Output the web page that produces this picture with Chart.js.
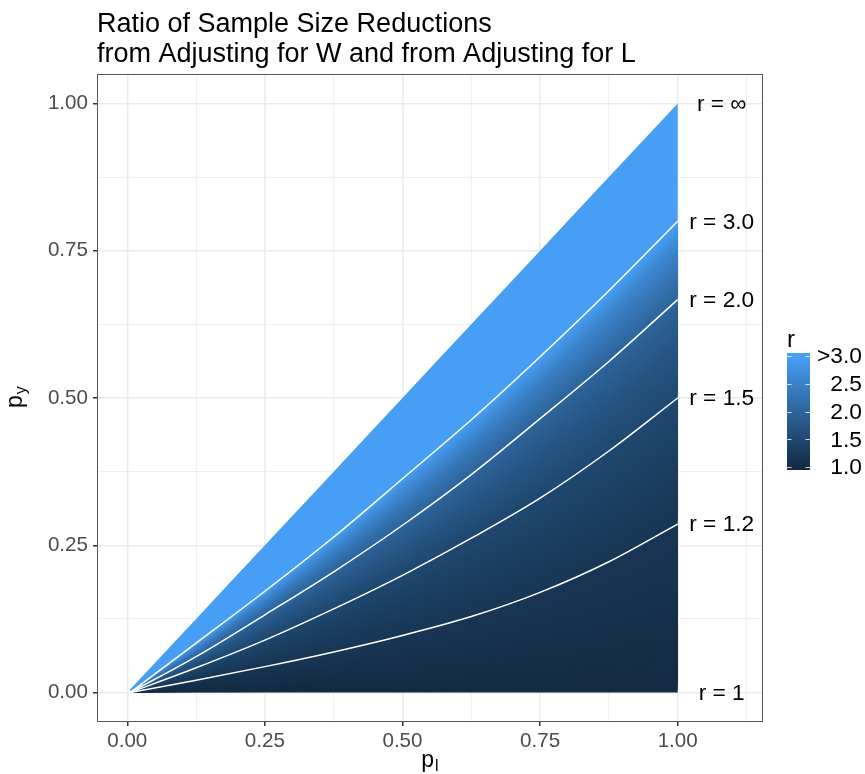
<!DOCTYPE html>
<html>
<head>
<meta charset="utf-8">
<script src="https://cdn.jsdelivr.net/npm/chart.js@4.4.1/dist/chart.umd.min.js"></script>
<style>
  html, body { margin: 0; padding: 0; background: #fff; }
</style>
</head>
<body>
<canvas id="chart" width="865" height="774"></canvas>
<script>
const pl = [0.005, 0.125, 0.25, 0.375, 0.5, 0.625, 0.75, 0.875, 1.0];
// p_y of each curve at those p_l
const pyInf = [0.005, 0.125, 0.25, 0.375, 0.5, 0.625, 0.75, 0.875, 1.0];
const py30 = [0, 0.084, 0.172, 0.264, 0.363, 0.463, 0.570, 0.682, 0.800];
const py20 = [0, 0.061, 0.132, 0.205, 0.284, 0.370, 0.465, 0.562, 0.667];
const py15 = [0, 0.042, 0.089, 0.142, 0.199, 0.262, 0.330, 0.410, 0.500];
const py12 = [0, 0.021, 0.044, 0.069, 0.097, 0.129, 0.170, 0.222, 0.286];
const py10 = [0, 0, 0, 0, 0, 0, 0, 0, 0];
const curveR = [Infinity, 3.0, 2.0, 1.5, 1.2, 1.0];
const curveLabels = ['r = \u221e', 'r = 3.0', 'r = 2.0', 'r = 1.5', 'r = 1.2', 'r = 1'];

const xMajor = [0, 0.25, 0.5, 0.75, 1.0];
const xMinor = [0.125, 0.375, 0.625, 0.875, 1.125];
const yMajor = [0, 0.25, 0.5, 0.75, 1.0];
const yMinor = [0.125, 0.375, 0.625, 0.875];

const legendTicks = [3.0, 2.5, 2.0, 1.5, 1.0];
const legendLabels = ['>3.0', '2.5', '2.0', '1.5', '1.0'];

const titleLines = ['Ratio of Sample Size Reductions', 'from Adjusting for W and from Adjusting for L'];

const LOW = [19, 43, 67];
const HIGH = [71, 159, 245];
const FONT = '"Liberation Sans", Arial, sans-serif';

function colourFor(r) {
  const f = (Math.min(r, 3) - 1) / 2;
  const c = LOW.map((v, i) => Math.round(v + f * (HIGH[i] - v)));
  return 'rgb(' + c.join(',') + ')';
}

const curves = [pyInf, py30, py20, py15, py12, py10];

// shaded bands between neighbouring curves, coloured by r.
// uses the same monotone bezier control points Chart.js uses for the lines
const fillPlugin = {
  id: 'isoFill',
  beforeDatasetsDraw(chart) {
    const ctx = chart.ctx;
    const pts = curves.map((c, i) => {
      const meta = chart.getDatasetMeta(i);
      meta.dataset.updateControlPoints(chart.chartArea);
      return meta.data;
    });
    const mix = (a, b, t, k) => a[k] + t * (b[k] - a[k]);
    ctx.save();
    for (let b = 0; b < curves.length - 1; b++) {
      const up = pts[b], lo = pts[b + 1];
      const uU = 1 - 1 / curveR[b], uL = 1 - 1 / curveR[b + 1];
      const steps = isFinite(curveR[b]) ? 48 : 1;
      for (let k = 0; k < steps; k++) {
        const t = k / steps, tm = (k + 0.5) / steps;
        ctx.fillStyle = colourFor(1 / (1 - (uL + tm * (uU - uL))));
        ctx.beginPath();
        ctx.moveTo(lo[0].x, mix(lo[0], up[0], t, 'y'));
        for (let i = 1; i < lo.length; i++) {
          ctx.bezierCurveTo(lo[i - 1].cp2x, mix(lo[i - 1], up[i - 1], t, 'cp2y'),
            lo[i].cp1x, mix(lo[i], up[i], t, 'cp1y'),
            lo[i].x, mix(lo[i], up[i], t, 'y'));
        }
        const n = up.length - 1;
        ctx.lineTo(up[n].x, up[n].y);
        for (let i = n; i > 0; i--) {
          ctx.bezierCurveTo(up[i].cp1x, up[i].cp1y, up[i - 1].cp2x, up[i - 1].cp2y, up[i - 1].x, up[i - 1].y);
        }
        ctx.closePath();
        ctx.fill();
      }
    }
    ctx.restore();
  }
};

const textPlugin = {
  id: 'texts',
  afterDraw(chart) {
    const ctx = chart.ctx, xs = chart.scales.x, ys = chart.scales.y, a = chart.chartArea;
    ctx.save();
    // panel border
    ctx.strokeStyle = '#555';
    ctx.lineWidth = 1;
    ctx.strokeRect(Math.round(a.left) + 0.5, Math.round(a.top) + 0.5, Math.round(a.right - a.left) - 1, Math.round(a.bottom - a.top) - 1);

    // title
    ctx.fillStyle = '#000';
    ctx.textAlign = 'left';
    ctx.textBaseline = 'alphabetic';
    ctx.font = '27px ' + FONT;
    ctx.fillText(titleLines[0], a.left, 32);
    ctx.fillText(titleLines[1], a.left, 62);

    // curve labels
    ctx.font = '22.7px ' + FONT;
    ctx.textAlign = 'center';
    ctx.textBaseline = 'middle';
    curves.forEach((c, i) => {
      ctx.fillText(curveLabels[i], xs.getPixelForValue(1.08), ys.getPixelForValue(c[c.length - 1]) + 1);
    });

    // x axis title p_l
    ctx.textAlign = 'left';
    ctx.textBaseline = 'alphabetic';
    ctx.font = '23px ' + FONT;
    const pw = ctx.measureText('p').width;
    ctx.font = '16px ' + FONT;
    const lw = ctx.measureText('l').width;
    const cx = (a.left + a.right) / 2 - (pw + lw + 1) / 2;
    ctx.font = '23px ' + FONT;
    ctx.fillText('p', cx, 767);
    ctx.font = '16px ' + FONT;
    ctx.fillText('l', cx + pw + 1, 771);

    // y axis title p_y
    ctx.save();
    ctx.translate(22, 408);
    ctx.rotate(-Math.PI / 2);
    ctx.font = '23px ' + FONT;
    ctx.fillText('p', 0, 0);
    ctx.font = '16px ' + FONT;
    ctx.fillText('y', pw + 1, 4);
    ctx.restore();

    // colour bar legend
    const barL = 787, barR = 810, barT = 353, barB = 470;
    const rTop = 356, rBot = 467;
    const yFor = r => rBot - (r - 1) / 2 * (rBot - rTop);
    const grad = ctx.createLinearGradient(0, rBot, 0, rTop);
    grad.addColorStop(0, colourFor(1));
    grad.addColorStop(1, colourFor(3));
    ctx.fillStyle = colourFor(1);
    ctx.fillRect(barL, rBot, barR - barL, barB - rBot);
    ctx.fillStyle = colourFor(3);
    ctx.fillRect(barL, barT, barR - barL, rTop - barT);
    ctx.fillStyle = grad;
    ctx.fillRect(barL, rTop, barR - barL, rBot - rTop);
    ctx.strokeStyle = 'rgba(255,255,255,0.8)';
    ctx.lineWidth = 1;
    legendTicks.forEach(v => {
      const yy = Math.round(yFor(v)) + 0.5;
      ctx.beginPath();
      ctx.moveTo(barL, yy); ctx.lineTo(barL + 4.5, yy);
      ctx.moveTo(barR - 4.5, yy); ctx.lineTo(barR, yy);
      ctx.stroke();
    });
    ctx.fillStyle = '#000';
    ctx.font = '22.8px ' + FONT;
    ctx.textAlign = 'right';
    ctx.textBaseline = 'middle';
    legendTicks.forEach((v, i) => ctx.fillText(legendLabels[i], 862, yFor(v) + 1));
    ctx.textAlign = 'left';
    ctx.textBaseline = 'alphabetic';
    ctx.font = '24px ' + FONT;
    ctx.fillText('r', barL, 347);
    ctx.restore();
  }
};

function ticksFrom(major, minor) {
  return scale => {
    scale.ticks = major.concat(minor).sort((p, q) => p - q).map(v => ({ value: v }));
  };
}
const isMajor = (list, v) => list.some(m => Math.abs(m - v) < 1e-9);

const lineSet = (data, show) => ({
  data: pl.map((p, i) => ({ x: p, y: data[i] })),
  showLine: true,
  borderColor: show ? '#ffffff' : 'rgba(0,0,0,0)',
  borderWidth: show ? 1.5 : 0,
  pointRadius: 0,
  cubicInterpolationMode: 'monotone'
});

new Chart(document.getElementById('chart'), {
  type: 'scatter',
  data: {
    datasets: [
      lineSet(pyInf, false),
      lineSet(py30, true),
      lineSet(py20, true),
      lineSet(py15, true),
      lineSet(py12, true),
      lineSet(py10, false)
    ]
  },
  options: {
    responsive: false,
    animation: false,
    devicePixelRatio: 1,
    layout: { padding: { top: 74, right: 102, left: 0, bottom: 0 } },
    plugins: { legend: { display: false }, tooltip: { enabled: false }, title: { display: false } },
    scales: {
      x: {
        type: 'linear',
        min: -0.055,
        max: 1.155,
        afterBuildTicks: ticksFrom(xMajor, xMinor),
        afterFit: s => { s.height = 52; },
        border: { display: false },
        grid: {
          color: '#ebebeb',
          lineWidth: c => isMajor(xMajor, c.tick.value) ? 1.5 : 0.8,
          tickColor: c => isMajor(xMajor, c.tick.value) ? '#333' : 'rgba(0,0,0,0)',
          tickLength: 4
        },
        ticks: {
          color: '#4d4d4d',
          font: { family: FONT, size: 20.6 },
          padding: 3,
          maxRotation: 0,
          autoSkip: false,
          callback: v => isMajor(xMajor, v) ? v.toFixed(2) : ''
        }
      },
      y: {
        type: 'linear',
        min: -0.05,
        max: 1.05,
        afterBuildTicks: ticksFrom(yMajor, yMinor),
        afterFit: s => { s.width = 97; },
        border: { display: false },
        grid: {
          color: '#ebebeb',
          lineWidth: c => isMajor(yMajor, c.tick.value) ? 1.5 : 0.8,
          tickColor: c => isMajor(yMajor, c.tick.value) ? '#333' : 'rgba(0,0,0,0)',
          tickLength: 4
        },
        ticks: {
          color: '#4d4d4d',
          font: { family: FONT, size: 20.6 },
          padding: 5,
          autoSkip: false,
          callback: v => isMajor(yMajor, v) ? v.toFixed(2) : ''
        }
      }
    }
  },
  plugins: [fillPlugin, textPlugin]
});
</script>
</body>
</html>
